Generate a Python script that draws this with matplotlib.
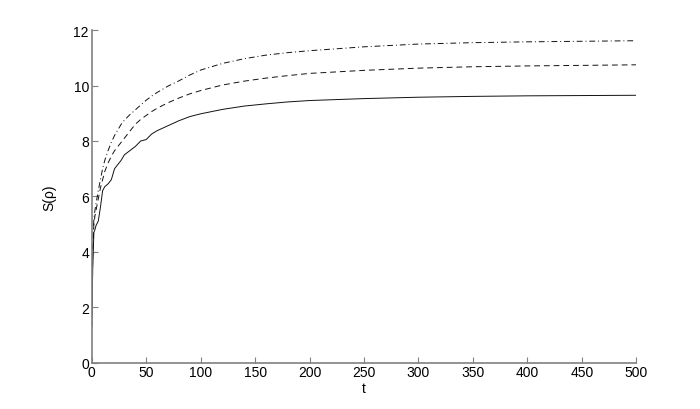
import numpy as np
import matplotlib.pyplot as plt

plt.rcParams['font.family'] = ['Liberation Sans', 'DejaVu Sans']

t = [0, 1, 2, 3, 4, 6, 8, 10, 12, 15, 18, 21, 24, 27, 30, 35, 40, 45, 50, 55,
     60, 70, 80, 90, 100, 120, 140, 160, 180, 200, 250, 300, 350, 400, 450, 500]

s_solid = [1.3, 3.5, 4.7, 4.8, 4.95, 5.1, 5.6, 6.2, 6.35, 6.45, 6.6, 7.0, 7.15, 7.3,
           7.5, 7.65, 7.8, 8.0, 8.05, 8.25, 8.37, 8.55, 8.73, 8.88, 8.98, 9.14, 9.26,
           9.34, 9.41, 9.46, 9.53, 9.58, 9.61, 9.63, 9.64, 9.65]

s_dashed = [1.3, 4.0, 5.0, 5.3, 5.5, 5.9, 6.3, 6.6, 6.9, 7.2, 7.45, 7.65, 7.8, 7.95,
            8.1, 8.35, 8.6, 8.78, 8.92, 9.06, 9.18, 9.38, 9.55, 9.7, 9.82, 10.02, 10.16,
            10.27, 10.36, 10.44, 10.55, 10.63, 10.68, 10.71, 10.73, 10.75]

s_dashdot = [1.3, 4.2, 5.2, 5.5, 5.75, 6.2, 6.6, 7.0, 7.3, 7.65, 7.95, 8.2, 8.4, 8.6,
             8.75, 8.95, 9.12, 9.3, 9.47, 9.62, 9.75, 9.98, 10.17, 10.38, 10.56, 10.8,
             10.97, 11.1, 11.19, 11.26, 11.4, 11.5, 11.55, 11.58, 11.6, 11.62]

fig = plt.figure(figsize=(7, 4.1), dpi=100)
ax = fig.add_axes([0.131, 0.1134, 0.778, 0.8105])

ax.plot(t, s_solid, '-', color='#111111', lw=0.7)
ax.plot(t, s_dashed, '--', color='#111111', lw=0.7, dashes=(6, 4))
ax.plot(t, s_dashdot, '-.', color='#111111', lw=0.7, dashes=(6, 3, 1, 3))

ax.set_xlim(0, 500)
ax.set_ylim(0, 12)
ax.set_xticks(np.arange(0, 501, 50))
ax.set_yticks(np.arange(0, 13, 2))

for side in ['top', 'right']:
    ax.spines[side].set_visible(False)
for side in ['left', 'bottom']:
    ax.spines[side].set_color('#808080')
    ax.spines[side].set_linewidth(1.2)
ax.tick_params(direction='in', length=4, color='#808080', labelsize=10, pad=2)

ax.set_xlabel('t', fontsize=10, labelpad=1)
ax.set_ylabel('S(ρ)', fontsize=10, labelpad=12)

fig.savefig('out.png', dpi=100)
